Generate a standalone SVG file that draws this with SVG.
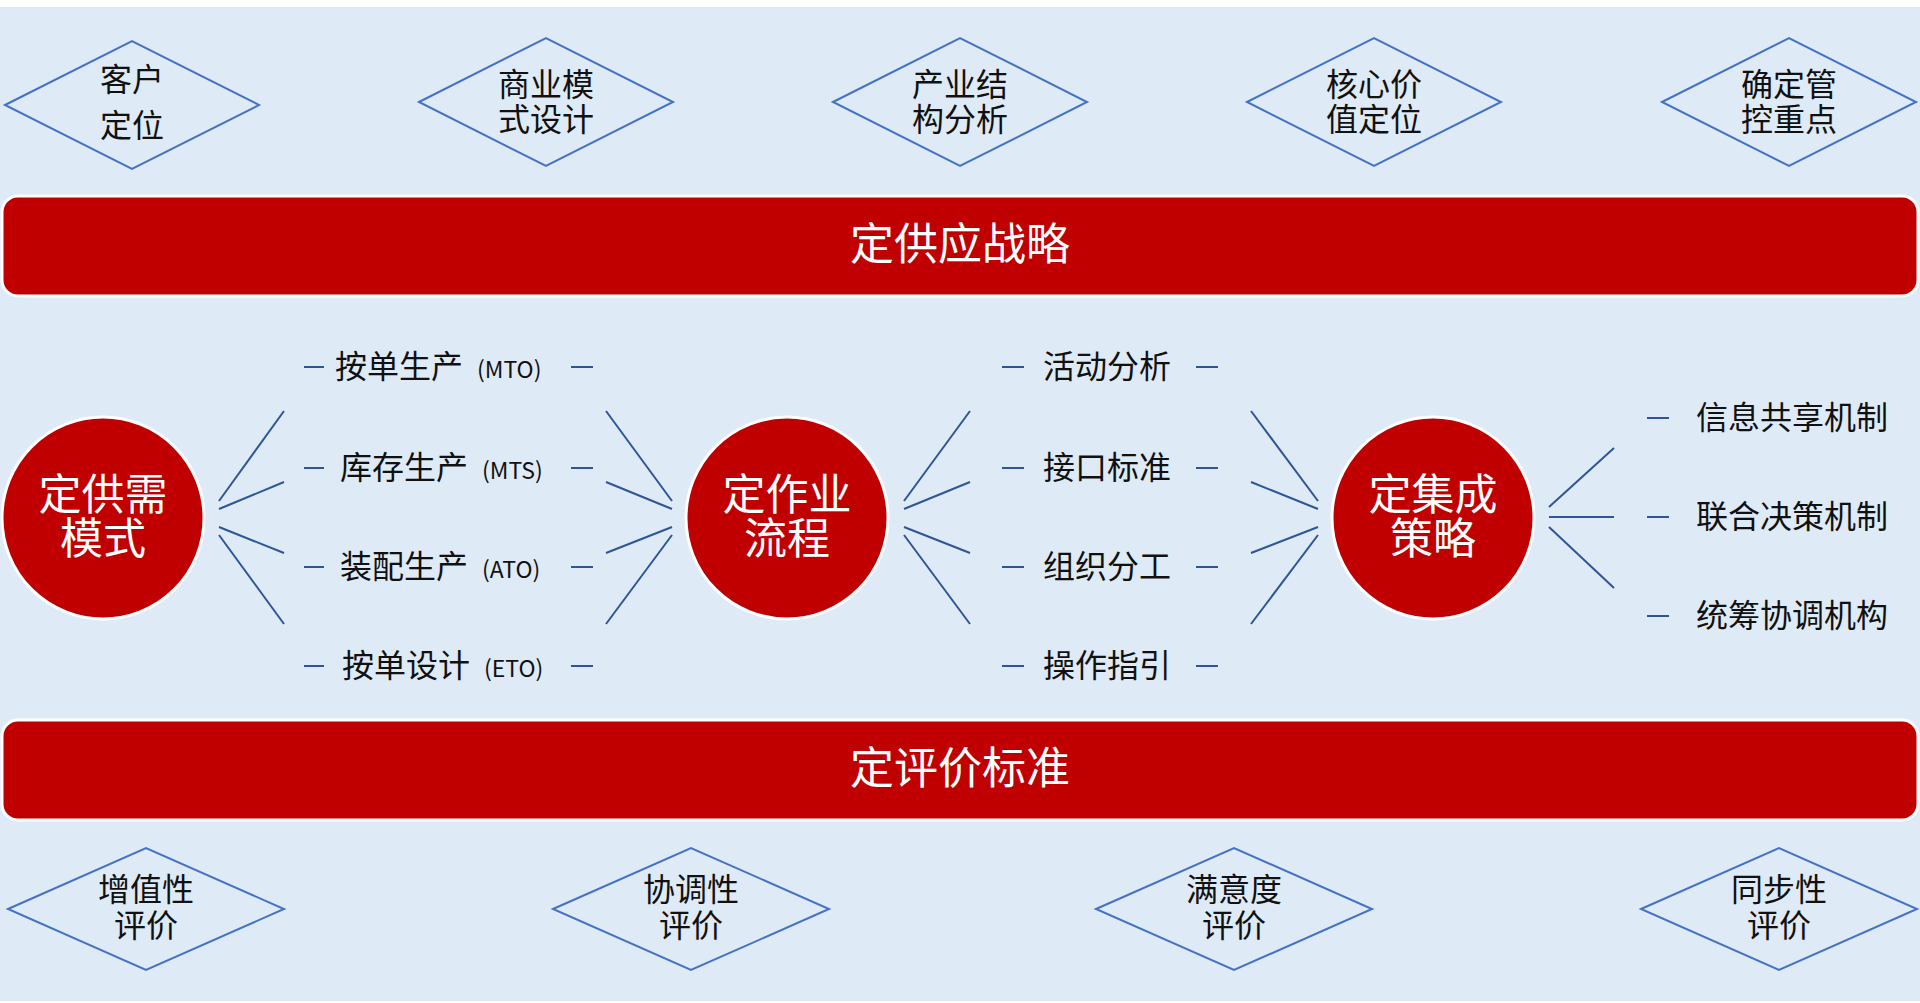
<svg xmlns="http://www.w3.org/2000/svg" width="1920" height="1003" viewBox="0 0 1920 1003">
<style>
text{font-family:"Noto Sans CJK SC","Noto Sans",sans-serif;fill:#111}
.d{fill:none;stroke:#4472c4;stroke-width:2}
.dt{font-size:32px;text-anchor:middle}
.bar{fill:#c00000;stroke:#fff;stroke-width:3}
.bt{font-size:44px;fill:#fff;text-anchor:middle}
.c{fill:#c00000;stroke:#fff;stroke-width:3}
.ct{font-size:43px;fill:#fff;text-anchor:middle}
.l{stroke:#2f5597;stroke-width:2}
.it{font-size:32px}
.sm{font-size:23px}
</style>
<rect x="0" y="0" width="1920" height="1003" fill="#fff"/>
<rect x="0" y="7" width="1920" height="994" fill="#deeaf6"/>
<g id="top-diamonds">
<g id="d1"><polygon class="d" points="5,105 132,41 259,105 132,169"/><text class="dt" x="132" y="91">客户</text><text class="dt" x="132" y="137">定位</text></g>
<g id="d2"><polygon class="d" points="419,102 546,38 673,102 546,166"/><text class="dt" x="546" y="96">商业模</text><text class="dt" x="546" y="131">式设计</text></g>
<g id="d3"><polygon class="d" points="833,102 960,38 1087,102 960,166"/><text class="dt" x="960" y="96">产业结</text><text class="dt" x="960" y="131">构分析</text></g>
<g id="d4"><polygon class="d" points="1247,102 1374,38 1501,102 1374,166"/><text class="dt" x="1374" y="96">核心价</text><text class="dt" x="1374" y="131">值定位</text></g>
<g id="d5"><polygon class="d" points="1662,102 1789,38 1916,102 1789,166"/><text class="dt" x="1789" y="96">确定管</text><text class="dt" x="1789" y="131">控重点</text></g>
</g>
<g id="bar1"><rect class="bar" x="2" y="196" width="1916" height="100" rx="16"/><text class="bt" x="960" y="260">定供应战略</text></g>
<g id="bar2"><rect class="bar" x="2" y="720" width="1916" height="100" rx="16"/><text class="bt" x="960" y="784">定评价标准</text></g>
<g id="connectors">
<line class="l" x1="284" y1="411" x2="219" y2="501"/><line class="l" x1="284" y1="482" x2="219" y2="509"/><line class="l" x1="219" y1="527" x2="284" y2="553"/><line class="l" x1="219" y1="535" x2="284" y2="624"/>
<line class="l" x1="606" y1="411" x2="672" y2="501"/><line class="l" x1="606" y1="482" x2="672" y2="509"/><line class="l" x1="672" y1="527" x2="606" y2="553"/><line class="l" x1="672" y1="535" x2="606" y2="624"/>
<line class="l" x1="904" y1="501" x2="970" y2="411"/><line class="l" x1="904" y1="509" x2="970" y2="482"/><line class="l" x1="904" y1="527" x2="970" y2="553"/><line class="l" x1="904" y1="535" x2="970" y2="624"/>
<line class="l" x1="1251" y1="411" x2="1318" y2="501"/><line class="l" x1="1251" y1="482" x2="1318" y2="509"/><line class="l" x1="1318" y1="527" x2="1251" y2="553"/><line class="l" x1="1318" y1="535" x2="1251" y2="624"/>
<line class="l" x1="1549" y1="507" x2="1614" y2="448"/><line class="l" x1="1549" y1="517" x2="1614" y2="517"/><line class="l" x1="1549" y1="527" x2="1614" y2="588"/>
</g>
<g id="c1"><circle class="c" cx="103" cy="518" r="101"/><text class="ct" x="103" y="510">定供需</text><text class="ct" x="103" y="554">模式</text></g>
<g id="c2"><circle class="c" cx="787" cy="518" r="101"/><text class="ct" x="787" y="510">定作业</text><text class="ct" x="787" y="554">流程</text></g>
<g id="c3"><circle class="c" cx="1433" cy="518" r="101"/><text class="ct" x="1433" y="510">定集成</text><text class="ct" x="1433" y="554">策略</text></g>
<g id="list1">
<g id="i1"><line class="l" x1="304" y1="367" x2="324" y2="367"/><text class="it" x="335" y="378">按单生产<tspan class="sm" dx="14">(MTO)</tspan></text><line class="l" x1="571" y1="367" x2="593" y2="367"/></g>
<g id="i2"><line class="l" x1="304" y1="468" x2="324" y2="468"/><text class="it" x="340" y="479">库存生产<tspan class="sm" dx="14">(MTS)</tspan></text><line class="l" x1="571" y1="468" x2="593" y2="468"/></g>
<g id="i3"><line class="l" x1="304" y1="567" x2="324" y2="567"/><text class="it" x="340" y="578">装配生产<tspan class="sm" dx="14">(ATO)</tspan></text><line class="l" x1="571" y1="567" x2="593" y2="567"/></g>
<g id="i4"><line class="l" x1="304" y1="666" x2="324" y2="666"/><text class="it" x="342" y="677">按单设计<tspan class="sm" dx="14">(ETO)</tspan></text><line class="l" x1="571" y1="666" x2="593" y2="666"/></g>
</g>
<g id="list2">
<g id="j1"><line class="l" x1="1002" y1="367" x2="1024" y2="367"/><text class="it" x="1043" y="378">活动分析</text><line class="l" x1="1196" y1="367" x2="1218" y2="367"/></g>
<g id="j2"><line class="l" x1="1002" y1="468" x2="1024" y2="468"/><text class="it" x="1043" y="479">接口标准</text><line class="l" x1="1196" y1="468" x2="1218" y2="468"/></g>
<g id="j3"><line class="l" x1="1002" y1="567" x2="1024" y2="567"/><text class="it" x="1043" y="578">组织分工</text><line class="l" x1="1196" y1="567" x2="1218" y2="567"/></g>
<g id="j4"><line class="l" x1="1002" y1="666" x2="1024" y2="666"/><text class="it" x="1043" y="677">操作指引</text><line class="l" x1="1196" y1="666" x2="1218" y2="666"/></g>
</g>
<g id="list3">
<g id="k1"><line class="l" x1="1647" y1="418" x2="1669" y2="418"/><text class="it" x="1696" y="429">信息共享机制</text></g>
<g id="k2"><line class="l" x1="1647" y1="517" x2="1669" y2="517"/><text class="it" x="1696" y="528">联合决策机制</text></g>
<g id="k3"><line class="l" x1="1647" y1="616" x2="1669" y2="616"/><text class="it" x="1696" y="627">统筹协调机构</text></g>
</g>
<g id="bottom-diamonds">
<g id="e1"><polygon class="d" points="8,909 146,848 284,909 146,970"/><text class="dt" x="146" y="901">增值性</text><text class="dt" x="146" y="937">评价</text></g>
<g id="e2"><polygon class="d" points="553,909 691,848 829,909 691,970"/><text class="dt" x="691" y="901">协调性</text><text class="dt" x="691" y="937">评价</text></g>
<g id="e3"><polygon class="d" points="1096,909 1234,848 1372,909 1234,970"/><text class="dt" x="1234" y="901">满意度</text><text class="dt" x="1234" y="937">评价</text></g>
<g id="e4"><polygon class="d" points="1641,909 1779,848 1917,909 1779,970"/><text class="dt" x="1779" y="901">同步性</text><text class="dt" x="1779" y="937">评价</text></g>
</g>
</svg>
